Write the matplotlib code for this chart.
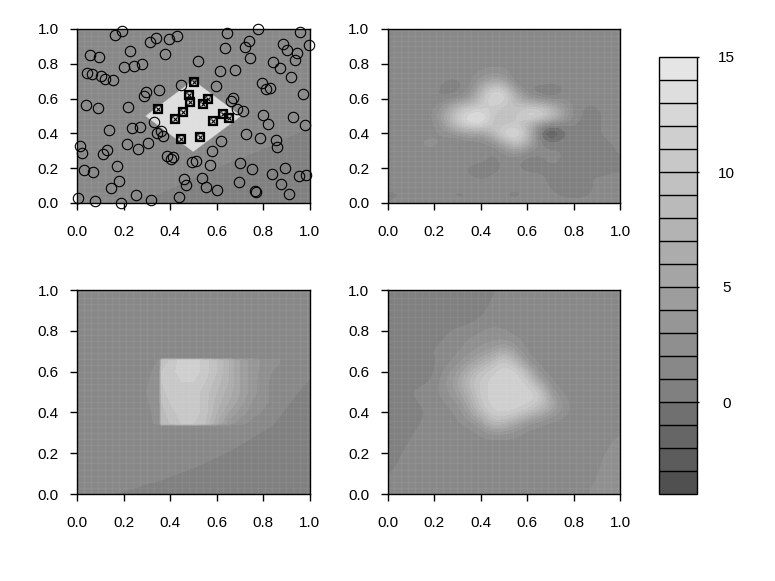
import numpy as np
import matplotlib
matplotlib.use("Agg")
import matplotlib.pyplot as plt
from matplotlib.colors import ListedColormap, BoundaryNorm

plt.rcParams['font.family'] = ['Liberation Sans', 'DejaVu Sans']
W, H = 775, 581

levels = list(range(-4, 16))
band_grays = [0x50, 0x5c, 0x66, 0x70, 0x80, 0x88, 0x8f, 0x96, 0x9d, 0xa5, 0xac,
              0xb3, 0xba, 0xc1, 0xc8, 0xcf, 0xd7, 0xde, 0xe5]
cbar_ticks = [0, 5, 10, 15]

circle_x = [.162,.195,.312,.338,.395,.428,.646,.779,.961,.996,.054,.096,.229,.380,.638,.721,.738,.885,.904,.946,.937,.745,.520,.203,.246,.279,.844,.871,.044,.063,.105,.122,.155,.613,.679,.921,.795,.811,.828,.446,.596,.354,.297,.287,.970,.671,.662,.037,.089,.221,.688,.712,.802,.928,.330,.820,.979,.138,.238,.271,.345,.362,.371,.728,.787,.854,.862,.620,.304,.213,.013,.021,.130,.113,.262,.579,.387,.404,.414,.494,.513,.570,.703,.754,.895,.837,.170,.029,.070,.537,.461,.470,.554,.603,.695,.878,.179,.145,.764,.771,.911,.953,.987,.254,.437,.319,.004,.079,.188]
circle_y = [.967,.990,.925,.948,.942,.958,.975,.998,.983,.908,.848,.840,.873,.858,.890,.898,.933,.915,.881,.863,.823,.833,.815,.783,.790,.798,.808,.773,.748,.740,.731,.713,.706,.756,.763,.723,.688,.656,.663,.681,.673,.648,.638,.613,.629,.604,.588,.563,.546,.554,.538,.529,.506,.496,.463,.456,.446,.421,.431,.438,.404,.413,.387,.396,.371,.363,.321,.354,.346,.338,.329,.287,.304,.279,.312,.296,.271,.254,.263,.237,.244,.221,.229,.194,.204,.169,.212,.187,.177,.144,.137,.102,.094,.077,.119,.112,.127,.085,.069,.062,.054,.154,.162,.044,.035,.019,.029,.010,.002]
square_x = [.504,.480,.487,.562,.544,.350,.454,.420,.629,.655,.586,.448,.529]
square_y = [.698,.621,.579,.598,.571,.542,.523,.481,.513,.488,.473,.369,.381]

# panel 1 field: scattered samples
p1_x = [0,0,1,.5,.12,.235,.35,.565,.78,1,.16,.255,.36,.575,.79,1,1,.6,
        .303,.5,.697,.5,.4015,.5985,.5985,.4015,
        .295,.5,.705,.5,.3975,.6025,.6025,.3975]
p1_y = [0,1,1,1,0,.035,.068,.205,.318,.456,0,.02,.04,.175,.29,.42,0,.03,
        .5,.697,.5,.303,.5985,.5985,.4015,.4015,
        .5,.705,.5,.295,.6025,.6025,.3975,.3975]
p1_z = [1.5]*10 + [.5]*8 + [13.5]*8 + [1.5]*8

p2_z = [
 [1.2,1.2]+[1.5]*4+[1.4]+[1.5]*13+[1.3],
 [.6,.9,1.5,1.5,.9,1.4,.5,1.0,1.5,1.5,.9,.5,1.2,1.5,1.3,.7,.6,.7,1.4,1.5,1.5],
 [1.5]*14+[.8,.5,.5,.5,1.3,1.5,1.5],
 [1.5]*7+[1.1,.7,1.2,1.5,1.5,1.5,1.3,.7,.5,.5,1.2,.9,1.2,1.2],
 [1.5]*7+[.7,.4,.5,1.2,1.3,.5,.6,.8,.7,.6,.7,.7,.7,.8],
 [1.5]*8+[1.4,.6,1.3,1.2,.5,.7,1.4,.9,.6,.6,.6,.6,.9],
 [1.5,1.5,1.5,1.8,1.8,1.5,.8,1.2,2.2,.6,2.5,4.5,2,1.2,1.3,1.0,.6,.6,.6,.8,1.2],
 [1.5,1.5,1.5,2.2,2.4,1.6,.7,1.2,1.3,2.5,7,10.5,7,1.2,0,.5,.8,.9,.7,.9,1.3],
 [1.5,1.5,1.5,1.6,1.7,2,3.5,5,4.5,8,12.5,13.5,9,-.5,-3.5,-.5,.8,1.1,.8,1.4,1.5],
 [1.5,1.5,1.5,1.5,1.6,5,9.5,12,12.5,9.5,9.5,10.5,7.5,3,.5,1.2,.9,.6,.7,1.5,1.5],
 [1.5,1.5,1.5,1.5,2,6,11,13.5,14,10,8.5,10,12.5,12.5,9.5,5,1.5,.7,.7,1.5,1.5],
 [1.5,1.5,1.5,1.5,1.8,4,8,10,10.5,11,9.5,9,10,9.5,7.5,4,1.5,.8,.9,1.5,1.5],
 [1.5,1.5,1.5,1.5,1,1,2,4,9,13,12,7.5,3.5,2.5,1,1.8,1.5,1.5,1.5,1.5,1.5],
 [1.5,1.5,1.5,1.5,1.2,.6,.5,1.8,7,11.5,11,4,1,-.2,-.5,1,1.5,1.5,1.5,1.5,1.5],
 [1.5,1.5,1.5,1.5,1.5,.8,.8,1.5,3.5,6,5,.5,1,2.2,1.5,1.5,1.5,1.5,1.5,1.5,1.5],
 [1.5]*8+[2.2,2.6,2.4,1.2,1.8,2.2,1.8]+[1.5]*6,
 [1.5]*9+[1.7,1.7]+[1.5]*10,
 [1.5]*21,
 [1.5]*21,
 [1.5]*21,
 [1.5]*6+[1.9]+[1.5]*14,
]

p4_z = [
 [1.5]*17+[1.9,2.4,2.5,2.5],
 [1.2]+[1.5]*16+[1.7,2.2,2.5,2.5],
 [.9,1.4]+[1.5]*15+[1.5,2.0,2.5,2.5],
 [.6,1.1]+[1.5]*16+[1.85,2.35,2.5],
 [.5,.9,1.4]+[1.5]*15+[1.7,2.2,2.5],
 [.5,.65,1.15]+[1.5]*16+[1.9,2.4],
 [.5,.5,.9,1.4,1.5,1.5,1.5,1.5,2.2,3,3,2.4]+[1.5]*8+[2.0],
 [.5,.5,.6,1.1,1.5,1.5,1.8,2.4,4,9,8,5.5,3,2.2,1.5]+[1.5]*6,
 [.5,.5,.5,.9,1.4,1.5,2.2,4.5,8.5,11,11.5,11,9,6.5,4.5,2.5,1.5,1.5,1.5,1.5,1.5],
 [.5,.5,.7,1.2,1.5,2,3,6,10.5,11.5,11.8,11.8,11.5,10.5,6.5,2.6,1.5,1.5,1.5,1.5,1.5],
 [.5,.5,1,1.5,1.7,2.6,4.5,7.5,10.5,11.5,11.8,11.8,11.8,11,3.5,1.6,1.5,1.5,1.5,1.5,1.5],
 [.5,.5,.5,.7,1.3,3.2,5,8.5,10.5,11.5,11.8,11.8,11,5.5,1.8]+[1.5]*6,
 [.5,.5,.5,.5,.8,2.6,4,7,9.5,11,11.8,11.8,8,2,1.5]+[1.5]*6,
 [.5,.5,.5,.5,.9,1.5,2.5,4,6,8.5,11,8,2.5,1.5,1.5]+[1.5]*6,
 [.5,.5,.5,.6,1.1,1.5,1.8,2.6,3.5,4.5,7,3.5,1.6,1.5,1.5]+[1.5]*6,
 [.5,.5,.5,.5,.7,1.2,1.6,2.2,2.6,2.8,3,2.4,1.5,1.5,1.5]+[1.5]*6,
 [.5]*5+[.8,1.3,1.5,2,2.4,2.1]+[1.5]*10,
 [.5]*7+[.7,1.2]+[1.5]*12,
 [.5]*8+[.8,1.3]+[1.5]*11,
 [.5]*8+[.6,1.1]+[1.5]*11,
 [.5]*9+[.85,1.35]+[1.5]*10,
]

# panel 3 background samples
p3_x = [0,0,1,.5,.14,.245,.35,.52,.678,.83,.945,1,.18,.265,.36,.53,.69,.85,.97,1,1,.6]
p3_y = [0,1,1,1,0,.04,.082,.155,.245,.349,.52,.594,0,.025,.05,.125,.215,.325,.5,.54,0,.03]
p3_z = [1.5]*12 + [.5]*10

# panel 3 rectangle, on its own grid
rect_x = [.30,.33,.355,.365,.4,.45,.5,.55,.6,.65,.7,.75,.8,.85,.87]
rect_y = [.335,.345,.40,.45,.50,.55,.60,.655,.665]
rect_z = [
 [1.5]*15,
 [1.5,2,2.4,8.5,9,10,10,9,6,3.5,2.5,1.5,1.5,1.5,1.5],
 [1.5,2.2,2.6,8.5,9.5,10.5,10.5,9.5,7,5,3.5,2.6,1.8,1.5,1.5],
 [1.8,2.4,2.8,9,10,11,10.5,9.5,7.5,6,4.5,3,2.4,1.5,1.5],
 [2,2.5,3,9.5,10.5,11,10.5,9.5,8,6.5,5,3.5,2.4,1.5,1.5],
 [1.8,2.4,2.8,10,10.5,11,11,10,8.5,7,5,3.5,2.4,1.5,1.5],
 [1.5,2.2,2.6,10,10.5,11.5,11.5,10.5,9,7,5,3.5,2.6,1.8,1.5],
 [1.5,1.5,2.2,9.5,10,11.5,11.5,10.5,9,7,5,3.5,2.8,2.5,2.2],
 [1.5]*15,
]

# lattice seen across the filled panels
lattice = [i * 0.03 for i in range(34)]

cmap = ListedColormap([(g/255,)*3 for g in band_grays])
norm = BoundaryNorm(levels, cmap.N)
fig = plt.figure(figsize=(W/100, H/100), dpi=100)

def make_ax(x0, x1, y0, y1):
    ax = fig.add_axes([x0/W, 1-y1/H, (x1-x0)/W, (y1-y0)/H])
    ax.set_xticks([0, .2, .4, .6, .8, 1]); ax.set_yticks([0, .2, .4, .6, .8, 1])
    ax.set_xticklabels(['0.0','0.2','0.4','0.6','0.8','1.0'])
    ax.set_yticklabels(['0.0','0.2','0.4','0.6','0.8','1.0'])
    ax.tick_params(axis='x', length=5, width=1, labelsize=11, pad=10.5)
    ax.tick_params(axis='y', length=5, width=1, labelsize=11, pad=8)
    for s in ax.spines.values():
        s.set_linewidth(1); s.set_zorder(10)
    return ax

def finish(ax):
    ax.vlines(lattice, 0, 1, colors='white', alpha=0.05, lw=1, zorder=3)
    ax.hlines(lattice, 0, 1, colors='white', alpha=0.05, lw=1, zorder=3)
    ax.set_xlim(0, 1); ax.set_ylim(0, 1)

kw = dict(levels=levels, cmap=cmap, norm=norm)
img = dict(cmap=cmap, norm=norm, origin='lower', extent=(-.025, 1.025, -.025, 1.025),
           aspect='auto', interpolation='bicubic', interpolation_stage='data')
a1 = make_ax(77, 309.5, 29, 203)
a2 = make_ax(387.5, 620, 29, 203)
a3 = make_ax(77, 309.5, 290, 494)
a4 = make_ax(387.5, 620, 290, 494)

a1.tricontourf(p1_x, p1_y, p1_z, **kw)
im2 = a2.imshow(p2_z, **img)
a3.tricontourf(p3_x, p3_y, p3_z, **kw)
a3.contourf(rect_x, rect_y, rect_z, levels=levels[6:], cmap=cmap, norm=norm)
a4.imshow(p4_z, **img)
for a in (a1, a2, a3, a4):
    finish(a)

a1.plot(circle_x, circle_y, 'o', ms=7.5, mfc='none', mec='black', mew=0.8, clip_on=False, zorder=5)
a1.plot(square_x, square_y, 's', ms=5.6, mfc='none', mec='black', mew=1.6, clip_on=False, zorder=6)
a1.plot(square_x, square_y, 'o', ms=5.6, mfc='none', mec='black', mew=0.7, clip_on=False, zorder=6)
a1.plot(square_x, square_y, 'x', ms=3.2, mec='black', mew=0.8, clip_on=False, zorder=6)

cax = fig.add_axes([659/W, 1-494/H, 38/W, (494-57)/H])
cb = fig.colorbar(im2, cax=cax, ticks=cbar_ticks, boundaries=levels, drawedges=True, spacing='proportional')
cb.dividers.set_color('black'); cb.dividers.set_linewidth(1)
cb.outline.set_linewidth(1)
cax.minorticks_off()
cax.tick_params(length=1.5, width=1, labelsize=11, pad=20)
cb.set_ticklabels([str(t) for t in cbar_ticks])
for t in cax.get_yticklabels():
    t.set_ha('center')
fig.savefig('out.png', dpi=100, facecolor='white')
